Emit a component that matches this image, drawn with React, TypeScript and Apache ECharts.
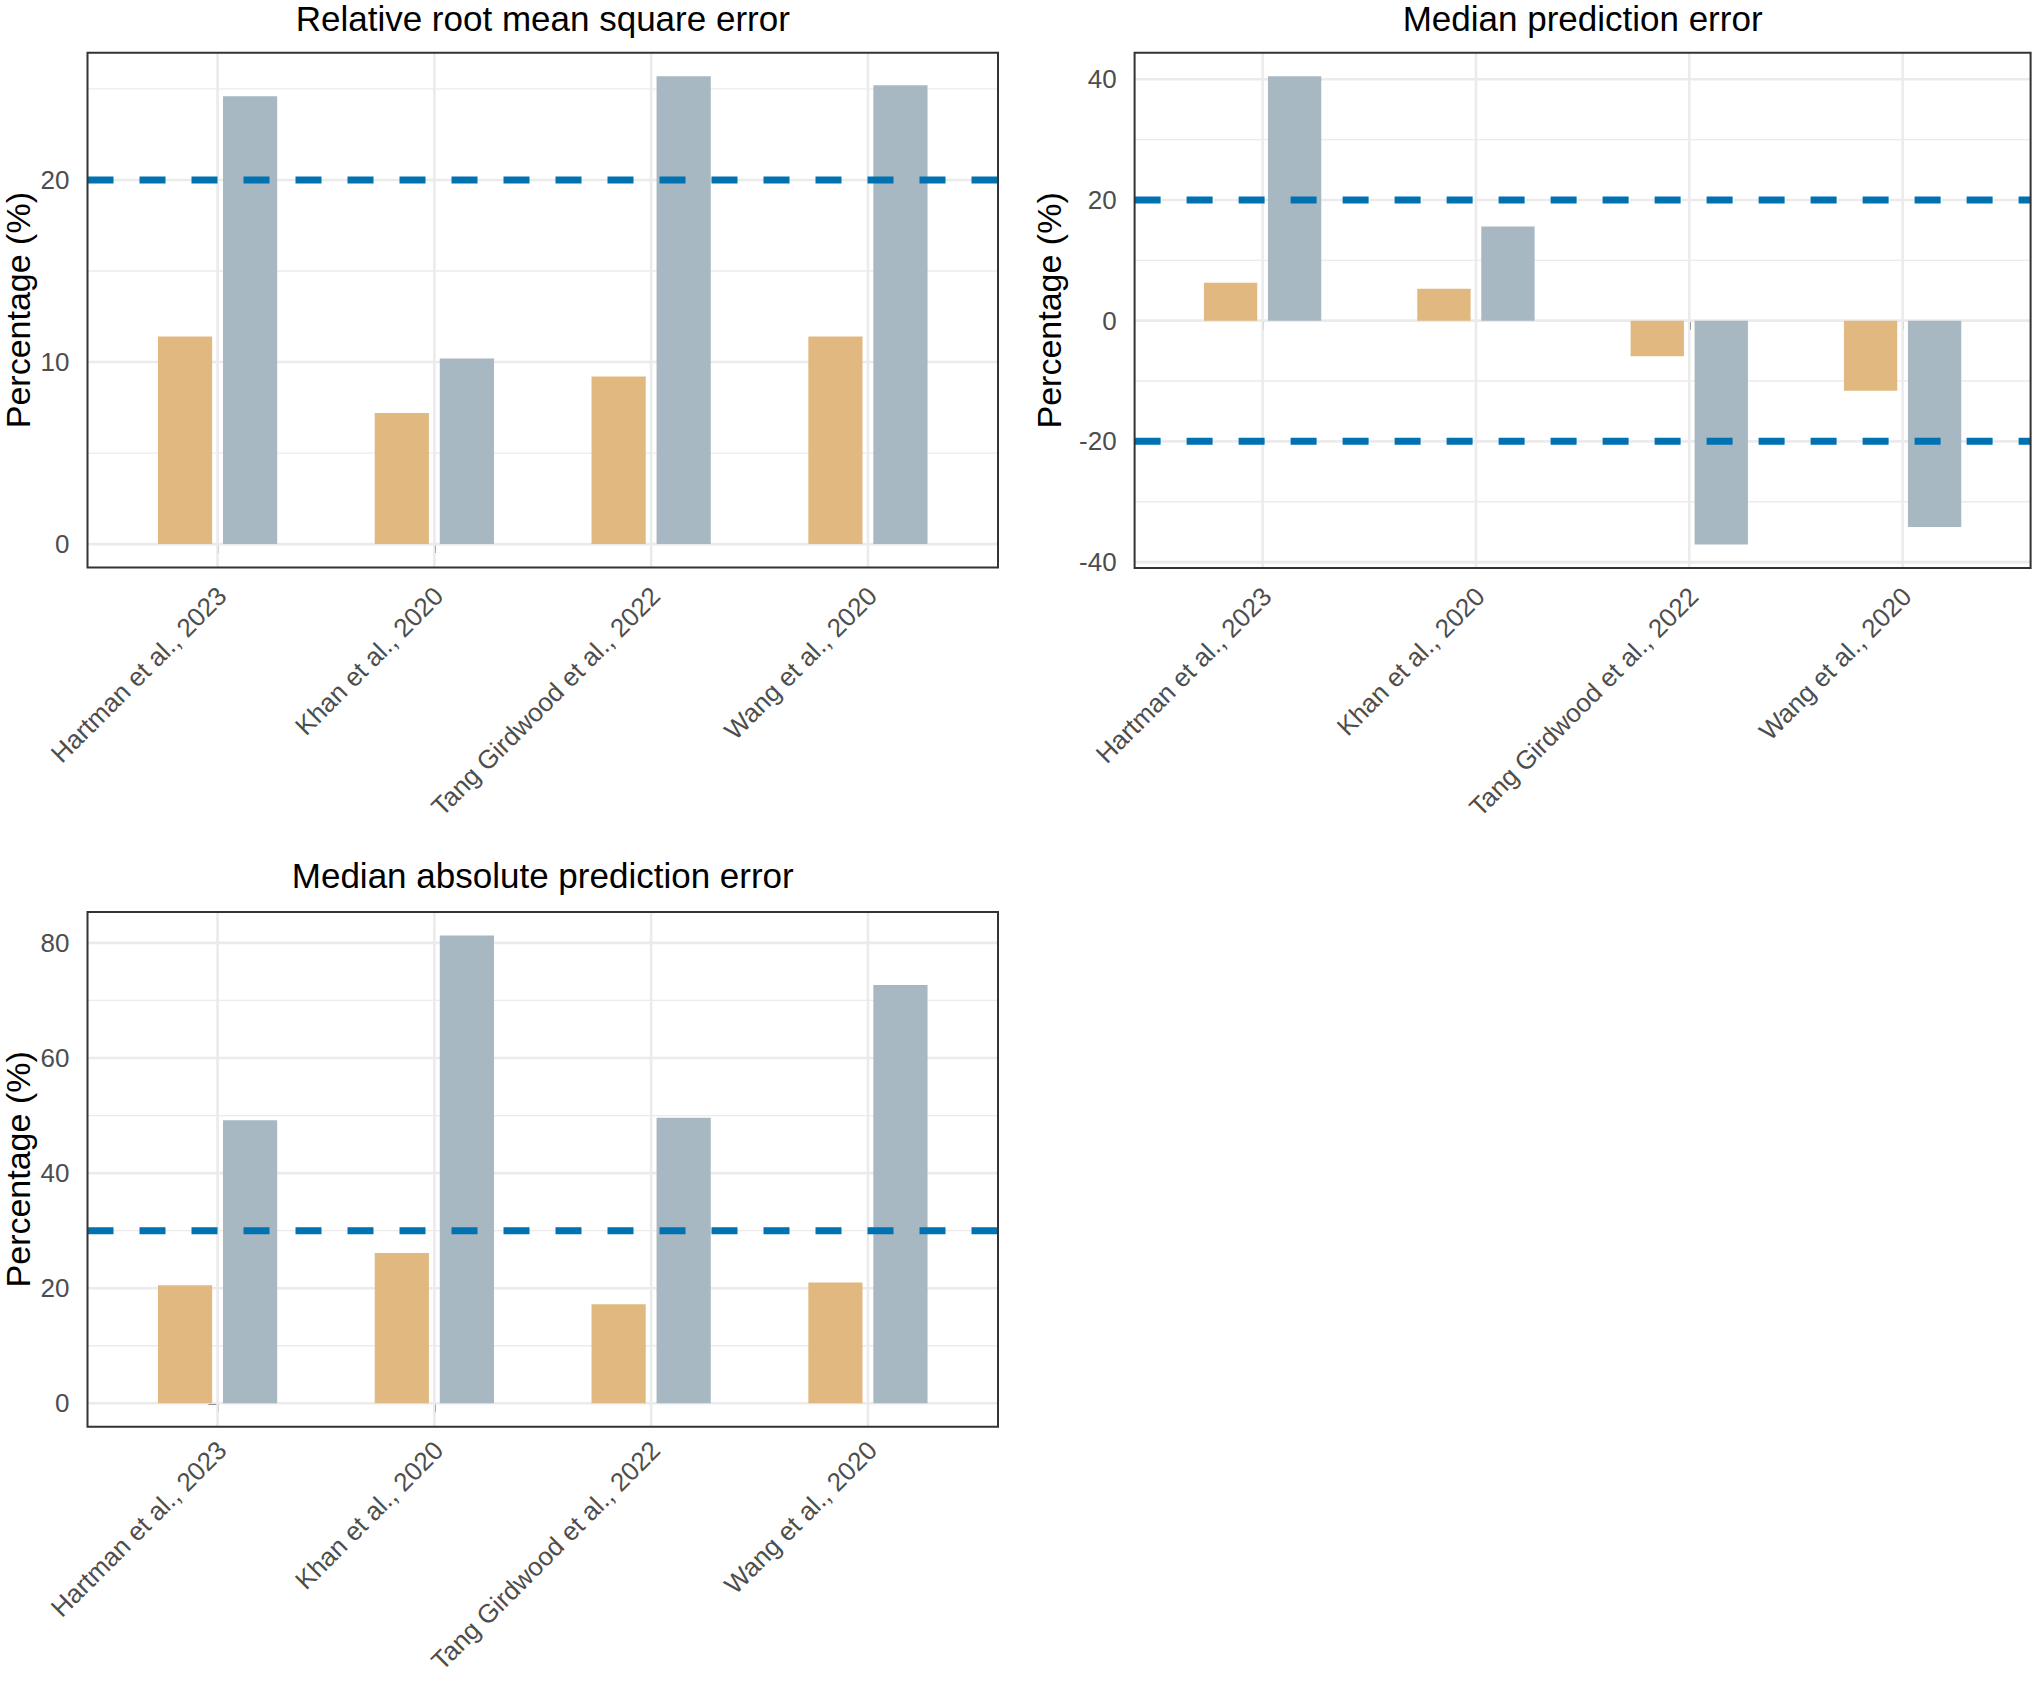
import React, { useEffect, useRef } from "react";
import * as echarts from "echarts";

const studies = ["Hartman et al., 2023", "Khan et al., 2020", "Tang Girdwood et al., 2022", "Wang et al., 2020"];
const panelTitles = ["Relative root mean square error", "Median prediction error", "Median absolute prediction error"];
const yTitle = "Percentage (%)";

const rrmseA = [11.4, 7.2, 9.2, 11.4];
const rrmseB = [24.6, 10.2, 25.7, 25.2];
const mpeA = [6.3, 5.3, -5.9, -11.6];
const mpeB = [40.5, 15.6, -37.1, -34.2];
const mapeA = [20.5, 26.1, 17.2, 21.0];
const mapeB = [49.2, 81.3, 49.6, 72.7];

const rrmseRefs = [20];
const mpeRefs = [20, -20];
const mapeRefs = [30];

const rrmseTicks = [0, 10, 20];
const mpeTicks = [-40, -20, 0, 20, 40];
const mapeTicks = [0, 20, 40, 60, 80];

const COLOR_A = "#E1B980";
const COLOR_B = "#A7B8C2";
const REF = "#0072B2";
const GRID = "#EBEBEB";
const FONT = "Liberation Sans, Arial, sans-serif";

const layout = [
  { left: 87.5, top: 52.8, width: 910.5, height: 514.7, titleTop: 0, nameGap: 53, labelMargin: 24 },
  { left: 1134.6, top: 52.8, width: 896, height: 515.2, titleTop: 0, nameGap: 69, labelMargin: 24 },
  { left: 87.5, top: 912, width: 910.5, height: 514.7, titleTop: 857, nameGap: 53, labelMargin: 19 },
];

const panels = [
  { title: panelTitles[0], a: rrmseA, b: rrmseB, refs: rrmseRefs, ticks: rrmseTicks },
  { title: panelTitles[1], a: mpeA, b: mpeB, refs: mpeRefs, ticks: mpeTicks },
  { title: panelTitles[2], a: mapeA, b: mapeB, refs: mapeRefs, ticks: mapeTicks },
];

function buildOption() {
  const grid: any[] = [];
  const xAxis: any[] = [];
  const yAxis: any[] = [];
  const series: any[] = [];
  const title: any[] = [];

  panels.forEach((p, k) => {
    const L = layout[k];
    const vals = [...p.a, ...p.b, 0, ...p.refs];
    const lo = Math.min(...vals);
    const hi = Math.max(...vals);
    const span = hi - lo;
    const ymin = lo - 0.05 * span;
    const ymax = hi + 0.05 * span;
    const step = p.ticks[1] - p.ticks[0];
    const minors = [p.ticks[0] - step / 2, ...p.ticks.map((v) => v + step / 2)].filter(
      (v) => v > ymin && v < ymax
    );

    grid.push({
      left: L.left,
      top: L.top,
      width: L.width,
      height: L.height,
      show: false,
      containLabel: false,
      outerBoundsMode: "none",
    });
    title.push({
      text: p.title,
      left: L.left + L.width / 2,
      top: L.titleTop,
      textAlign: "center",
      padding: 0,
      textStyle: { fontSize: 35, fontWeight: "normal", color: "#000", fontFamily: FONT, lineHeight: 36 },
    });
    xAxis.push({
      type: "value",
      gridIndex: k,
      min: -0.6,
      max: studies.length - 1 + 0.6,
      axisLine: { show: false },
      splitLine: { show: false },
      axisTick: {
        show: true,
        length: 9,
        customValues: studies.map((_, i) => i),
        lineStyle: { color: "#333", width: 2 },
      },
      axisLabel: {
        show: true,
        rotate: 45,
        margin: L.labelMargin,
        fontSize: 26,
        color: "#4D4D4D",
        fontFamily: FONT,
        customValues: studies.map((_, i) => i + 0.02),
        formatter: (v: number) => studies[Math.round(v)] ?? "",
      },
    });
    yAxis.push({
      type: "value",
      gridIndex: k,
      min: ymin,
      max: ymax,
      name: yTitle,
      nameLocation: "middle",
      nameRotate: 90,
      nameGap: L.nameGap,
      nameTextStyle: { fontSize: 34, color: "#000", fontFamily: FONT },
      axisLine: { show: false },
      splitLine: { show: false },
      axisTick: {
        show: true,
        length: 9,
        customValues: p.ticks,
        lineStyle: { color: "#333", width: 2 },
      },
      axisLabel: {
        show: true,
        margin: 18,
        fontSize: 26,
        color: "#4D4D4D",
        fontFamily: FONT,
        customValues: p.ticks,
      },
    });

    const hLine = (width: number, stroke: string, dash?: number[]) =>
      (params: any, api: any) => {
        const cs = params.coordSys;
        const y = api.coord([0, api.value(1)])[1];
        return {
          type: "line",
          shape: { x1: cs.x, y1: y, x2: cs.x + cs.width, y2: y },
          style: { stroke, lineWidth: width, lineDash: dash, fill: null },
        };
      };

    series.push({
      type: "custom",
      xAxisIndex: k,
      yAxisIndex: k,
      z: 1,
      silent: true,
      data: minors.map((v) => [0, v]),
      renderItem: hLine(1.3, GRID),
    });
    series.push({
      type: "custom",
      xAxisIndex: k,
      yAxisIndex: k,
      z: 1,
      silent: true,
      data: p.ticks.map((v) => [0, v]),
      renderItem: hLine(2.6, GRID),
    });
    series.push({
      type: "custom",
      xAxisIndex: k,
      yAxisIndex: k,
      z: 1,
      silent: true,
      data: studies.map((_, i) => [i, 0]),
      renderItem: (params: any, api: any) => {
        const cs = params.coordSys;
        const x = api.coord([api.value(0), 0])[0];
        return {
          type: "line",
          shape: { x1: x, y1: cs.y, x2: x, y2: cs.y + cs.height },
          style: { stroke: GRID, lineWidth: 2.6 },
        };
      },
    });
    series.push({
      type: "bar",
      xAxisIndex: k,
      yAxisIndex: k,
      z: 2,
      barWidth: "25%",
      barGap: "20%",
      itemStyle: { color: COLOR_A },
      data: p.a.map((v, i) => [i, v]),
    });
    series.push({
      type: "bar",
      xAxisIndex: k,
      yAxisIndex: k,
      z: 2,
      barWidth: "25%",
      barGap: "20%",
      itemStyle: { color: COLOR_B },
      data: p.b.map((v, i) => [i, v]),
    });
    series.push({
      type: "custom",
      xAxisIndex: k,
      yAxisIndex: k,
      z: 3,
      silent: true,
      data: p.refs.map((v) => [0, v]),
      renderItem: hLine(7, REF, [26, 26]),
    });
    series.push({
      type: "custom",
      xAxisIndex: k,
      yAxisIndex: k,
      z: 4,
      silent: true,
      data: [[0, 0]],
      renderItem: (params: any) => {
        const cs = params.coordSys;
        return {
          type: "rect",
          shape: { x: cs.x, y: cs.y, width: cs.width, height: cs.height },
          style: { stroke: "#333", lineWidth: 2, fill: null },
        };
      },
    });
  });

  return {
    animation: false,
    backgroundColor: "#fff",
    textStyle: { fontFamily: FONT },
    title,
    grid,
    xAxis,
    yAxis,
    series,
  };
}

export default function App() {
  const ref = useRef<HTMLDivElement>(null);
  useEffect(() => {
    if (!ref.current) return;
    const chart = echarts.init(ref.current, undefined, { renderer: "svg" });
    chart.setOption(buildOption() as any);
    return () => chart.dispose();
  }, []);
  return (
    <div
      ref={ref}
      style={{ position: "fixed", left: 0, top: 0, width: 2032, height: 1684, background: "#fff" }}
    />
  );
}
